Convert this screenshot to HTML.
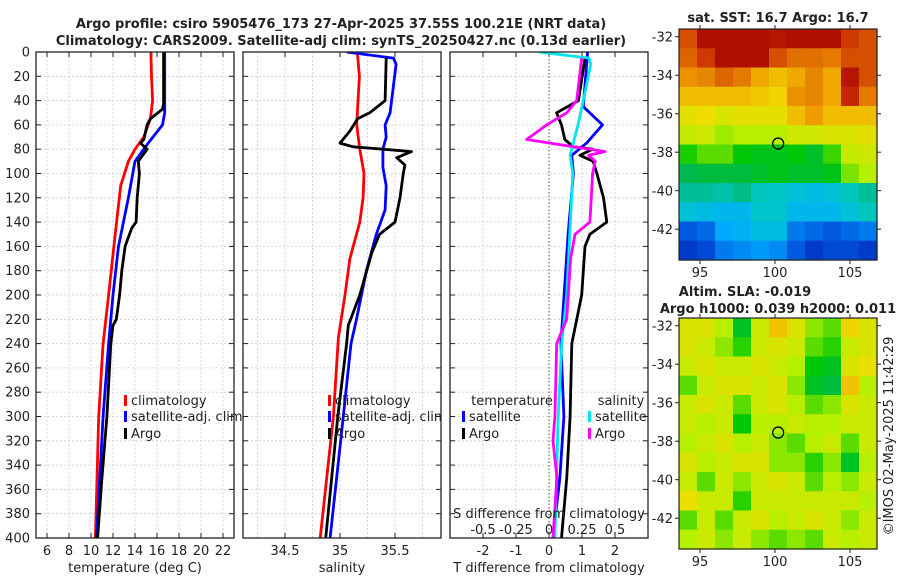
<!DOCTYPE html>
<html><head><meta charset="utf-8">
<style>
html,body{margin:0;padding:0;background:#fff;}
svg{display:block;font-family:"DejaVu Sans","Liberation Sans",sans-serif;}
</style></head>
<body>
<svg id="chart" width="900" height="580" viewBox="0 0 900 580" xmlns="http://www.w3.org/2000/svg">
<g id="root"></g>
</svg>
<script>
// ---------- data ----------
const depthTicks = [0,20,40,60,80,100,120,140,160,180,200,220,240,260,280,300,320,340,360,380,400];
const tempTicks = [6,8,10,12,14,16,18,20,22];
const salTicks = [34.5,35,35.5];
const tdiffTicks = [-2,-1,0,1,2];
const sdiffTicks = [-0.5,-0.25,0,0.25,0.5];
const sdiffTickLabels = ['-0.5','-0.25','0','0.25','0.5'];

const climTDepth = [0,20,40,55,70,80,90,110,150,200,240,300,400];
const climT      = [15.45,15.5,15.6,15.4,14.8,14.0,13.4,12.7,12.2,11.6,11.1,10.7,10.4];
const satTDepth  = [0,50,60,75,90,120,160,200,240,300,400];
const satT       = [16.7,16.7,16.5,15.2,14.0,13.4,12.5,12.0,11.6,11.1,10.5];
const argoTDepth = [0,42,47,55,60,72,75,80,85,90,100,120,140,145,160,180,200,220,225,240,300,350,400];
const argoT      = [16.6,16.6,16.5,15.4,15.1,14.8,14.5,15.1,14.7,14.3,14.4,14.2,14.1,13.7,13.1,12.8,12.6,12.3,12.0,11.8,11.45,11.0,10.6];

const climSDepth = [0,20,60,80,100,120,140,170,200,235,300,400];
const climS      = [35.157,35.176,35.152,35.18,35.218,35.21,35.18,35.09,35.045,34.985,34.94,34.82];
const satSDepth  = [0,5,10,50,60,70,80,95,110,130,150,180,220,240,300,400];
const satS       = [35.06,35.485,35.51,35.455,35.41,35.42,35.39,35.39,35.42,35.41,35.33,35.24,35.15,35.1,35.03,34.91];
const argoSDepth = [5,40,50,55,65,75,78,80,82,87,93,100,120,140,150,165,200,225,240,300,400];
const argoS      = [35.42,35.41,35.27,35.16,35.09,35.0,35.12,35.39,35.65,35.515,35.59,35.575,35.545,35.5,35.36,35.29,35.18,35.075,35.06,34.98,34.87];

const satTdDepth = [0,45,60,75,85,100,150,240,300,350,400];
const satTd      = [1.17,1.04,1.62,1.14,0.69,0.74,0.58,0.36,0.45,0.33,0.12];
const argoTdDepth= [5,40,50,60,72,78,80,85,90,100,120,140,150,160,200,240,300,350,400];
const argoTd     = [1.09,0.89,0.23,0.38,0.48,0.74,1.32,0.94,1.34,1.45,1.65,1.75,1.24,1.09,0.99,0.69,0.64,0.54,0.38];
const satSdDepth = [0,5,10,40,60,85,100,200,240,300,400];
const satSd      = [-0.076,0.303,0.316,0.26,0.22,0.16,0.18,0.134,0.096,0.07,0.045];
const argoSdDepth= [5,40,50,60,72,82,85,90,100,140,150,170,220,240,300,320,350,400];
const argoSd     = [0.248,0.21,0.134,-0.018,-0.169,0.424,0.30,0.35,0.33,0.31,0.197,0.164,0.134,0.058,0.045,0.03,0.06,0.03];

const lonTicks = [95,100,105];
const latTicks = [-32,-34,-36,-38,-40,-42];
const argoLon = 100.21, argoLat = -37.55;
const sstGrid = [
[18.6,19.3,19.3,19.3,19.3,19.2,19.3,19.3,19.3,18.8,18.6],
[18.4,18.8,19.3,19.3,19.3,18.6,18.3,18.3,18.2,18.6,18.6],
[18.0,18.1,18.4,18.2,17.8,17.6,17.8,18.1,17.8,19.2,18.6],
[17.6,17.6,17.6,17.6,17.5,17.4,18.0,18.1,17.8,19.0,18.2],
[17.2,17.3,17.1,17.2,17.2,17.2,17.6,17.9,17.6,17.6,17.6],
[16.9,17.0,16.7,16.8,16.8,16.8,17.0,17.0,17.1,17.1,17.2],
[16.3,16.5,16.5,16.2,16.1,16.1,16.2,16.0,16.4,16.9,17.0],
[15.8,15.9,15.9,15.9,16.0,16.1,16.0,16.0,16.1,16.6,16.8],
[15.4,15.4,15.3,15.5,15.2,15.1,15.0,14.9,15.0,15.2,15.4],
[15.0,14.9,14.8,14.8,15.1,15.1,14.8,14.8,14.8,15.0,15.2],
[14.1,14.2,14.6,14.7,14.9,14.9,14.3,14.2,14.1,14.2,14.3],
[13.9,14.0,14.3,14.4,14.5,14.4,14.1,13.9,14.0,14.0,13.9]];
const slaGrid = [
[.05,.05,.03,-.02,.04,.08,.05,.02,.01,.07,.05],
[.05,.04,.02,.00,.04,.05,.04,.01,.00,.04,.05],
[.04,.05,.04,.04,.05,.04,.03,-.01,-.02,.05,.06],
[.01,.04,.05,.05,.04,.05,.02,-.02,-.03,.08,.03],
[.04,.05,.04,.01,.04,.05,.03,.01,.02,.05,.04],
[.04,.03,.04,-.01,.03,.03,.04,.03,.03,.04,.04],
[.03,.04,.05,.03,.04,.02,.01,.03,.04,.01,.04],
[.05,.03,.04,.05,.05,.02,.02,.00,.02,-.02,.03],
[.04,.01,.04,.02,.04,.05,.04,.01,.03,.02,.04],
[.06,.04,.04,.00,.04,.04,.04,.04,.04,.04,.03],
[.01,.04,.01,.04,.05,.03,.04,.05,.04,.02,.04],
[.03,.04,.02,.04,.02,.01,.02,.01,.04,.03,.04]];

// ---------- helpers ----------
const NS='http://www.w3.org/2000/svg';
const root=document.getElementById('root');
function mk(tag,attrs,parent){const e=document.createElementNS(NS,tag);for(const k in attrs)e.setAttribute(k,attrs[k]);(parent||root).appendChild(e);return e;}
function txt(s,x,y,size,anchor,weight,parent){const t=mk('text',{x:x,y:y,'font-size':size,'text-anchor':anchor||'middle','font-weight':weight||'normal',fill:'#222'},parent);t.textContent=s;return t;}

const PT=52, PB=538;
const yD = d => PT + d*(PB-PT)/400;
const P1={x0:36,x1:234,v0:5,v1:23};
const P2={x0:243,x1:441,v0:34.11818,v1:35.91818};
const P3={x0:450,x1:648,v0:-3,v1:3};
const P3s={x0:450,x1:648,v0:-0.75,v1:0.75};
const xScale=(P,v)=>P.x0+(v-P.v0)*(P.x1-P.x0)/(P.v1-P.v0);

function panel(P,name,gridVals,labelVals,labels,xlabel){
  const g=mk('g',{});
  
  
  depthTicks.forEach(d=>{ if(d>0&&d<400) mk('line',{x1:P.x0,x2:P.x1,y1:yD(d),y2:yD(d),stroke:'#c8cce0','stroke-width':0.8,'stroke-dasharray':'2,2'},g);});
  gridVals.forEach(v=>{const x=xScale(P,v); mk('line',{x1:x,x2:x,y1:PT,y2:PB,stroke:'#c8cce0','stroke-width':0.8,'stroke-dasharray':'2,2'},g);});
  depthTicks.forEach(d=>{mk('line',{x1:P.x0,x2:P.x0+5,y1:yD(d),y2:yD(d),stroke:'#222'},g);mk('line',{x1:P.x1,x2:P.x1-5,y1:yD(d),y2:yD(d),stroke:'#222'},g);});
  labelVals.forEach((v,i)=>{const x=xScale(P,v);mk('line',{x1:x,x2:x,y1:PB,y2:PB-5,stroke:'#222'},g);mk('line',{x1:x,x2:x,y1:PT,y2:PT+5,stroke:'#222'},g);
    const t=txt(labels[i],x,555,13,'middle','normal',g); });
  const xl=txt(xlabel,(P.x0+P.x1)/2,572,13,'middle','normal',g);
  
  return g;
}
function frame(P,g){mk('rect',{x:P.x0,y:PT,width:P.x1-P.x0,height:PB-PT,fill:'none',stroke:'#222','stroke-width':1.3},g);}
function line(P,vals,depths,color,name,g,w){
  const pts=vals.map((v,i)=>xScale(P,v).toFixed(1)+','+yD(depths[i]).toFixed(1)).join(' ');
  const pl=mk('polyline',{points:pts,fill:'none',stroke:color,'stroke-width':w||2.8,'stroke-linejoin':'round'},g);
  
  
}
function legendEntry(x,y,color,label,g,name){
  const e=mk('g',{},g);
  
  
  mk('rect',{x:x,y:y-10,width:3,height:11,fill:color},e);
  txt(label,x+7,y,13,'start','normal',e);
}

const defs=mk('defs',{});
[[P1,'c1'],[P2,'c2'],[P3,'c3']].forEach(([P,id])=>{const c=mk('clipPath',{id:id},defs);mk('rect',{x:P.x0,y:PT,width:P.x1-P.x0,height:PB-PT},c);});

depthTicks.forEach(d=>{const t=txt(String(d),30,yD(d)+4.5,13,'end');});

// panel 1
const g1=panel(P1,'temperature-panel',[6,8,10,12,14,16,18,20,22],tempTicks,tempTicks.map(String),'temperature (deg C)');
const l1=mk('g',{'clip-path':'url(#c1)'},g1);
line(P1,climT,climTDepth,'#ff0000','climatology-temp-line',l1);
line(P1,satT,satTDepth,'#0000ff','satellite-temp-line',l1);
line(P1,argoT,argoTDepth,'#000000','argo-temp-line',l1);
legendEntry(124,405,'#ff0000','climatology',g1,'legend-climatology');
legendEntry(124,421,'#0000ff','satellite-adj. clim',g1,'legend-satellite-adj');
legendEntry(124,438,'#000000','Argo',g1,'legend-argo');
frame(P1,g1);

// panel 2
const g2=panel(P2,'salinity-panel',[34.25,34.5,34.75,35,35.25,35.5,35.75],salTicks,salTicks.map(String),'salinity');
const l2=mk('g',{'clip-path':'url(#c2)'},g2);
line(P2,climS,climSDepth,'#ff0000','climatology-salinity-line',l2);
line(P2,satS,satSDepth,'#0000ff','satellite-salinity-line',l2);
line(P2,argoS,argoSDepth,'#000000','argo-salinity-line',l2);
const lg2=mk('g',{'clip-path':'url(#c2)'},g2);
legendEntry(328,405,'#ff0000','climatology',lg2,'legend-climatology-2');
legendEntry(328,421,'#0000ff','satellite-adj. clim',lg2,'legend-satellite-adj-2');
legendEntry(328,438,'#000000','Argo',lg2,'legend-argo-2');
frame(P2,g2);

// panel 3
const g3=panel(P3,'difference-panel',[-2,-1,1,2],tdiffTicks,tdiffTicks.map(String),'T difference from climatology');
mk('line',{x1:xScale(P3,0),x2:xScale(P3,0),y1:PT,y2:PB,stroke:'#3a5a2a','stroke-width':1,'stroke-dasharray':'1.5,2'},g3);
const l3=mk('g',{'clip-path':'url(#c3)'},g3);
line(P3,satTd,satTdDepth,'#0000ff','satellite-tdiff-line',l3);
line(P3,argoTd,argoTdDepth,'#000000','argo-tdiff-line',l3);
line(P3s,satSd,satSdDepth,'#00e5ee','satellite-sdiff-line',l3);
line(P3s,argoSd,argoSdDepth,'#ff00ff','argo-sdiff-line',l3);
txt('temperature',512,405,13,'middle','normal',g3);
txt('salinity',621,405,13,'middle','normal',g3);
legendEntry(462,421,'#0000ff','satellite',g3,'legend-tdiff-satellite');
legendEntry(462,438,'#000000','Argo',g3,'legend-tdiff-argo');
legendEntry(588,421,'#00e5ee','satellite',g3,'legend-sdiff-satellite');
legendEntry(588,438,'#ff00ff','Argo',g3,'legend-sdiff-argo');
const st=txt('S difference from climatology',549,518,13,'middle','normal',g3);

sdiffTicks.forEach((v,i)=>{const t=txt(sdiffTickLabels[i],xScale(P3s,v),534,13,'middle','normal',g3);});
frame(P3,g3);

const t1=txt('Argo profile: csiro 5905476_173 27-Apr-2025 37.55S 100.21E (NRT data)',341,28,13,'middle','bold');

const t2=txt('Climatology: CARS2009. Satellite-adj clim: synTS_20250427.nc (0.13d earlier)',341,45,13,'middle','bold');


// ---------- maps ----------
const CMAP=[[0,0,140],[0,80,220],[0,170,255],[0,200,200],[0,180,100],[0,200,0],[180,240,0],[240,220,0],[240,160,0],[220,100,0],[200,40,0],[160,0,0]];
function cmap(t){t=Math.max(0,Math.min(1,t));const f=t*(CMAP.length-1);const i=Math.min(CMAP.length-2,Math.floor(f));const a=f-i;
  const c=CMAP[i].map((v,k)=>Math.round(v+(CMAP[i+1][k]-v)*a));return 'rgb('+c.join(',')+')';}
function mapPanel(name,y0,grid,vmin,vmax){
  const M={x0:679,x1:877,y0:y0,y1:y0+231,lon0:93.6,lon1:106.8,lat0:-31.6,lat1:-43.6};
  const mx=lon=>M.x0+(lon-M.lon0)*(M.x1-M.x0)/(M.lon1-M.lon0);
  const my=lat=>M.y0+(lat-M.lat0)*(M.y1-M.y0)/(M.lat1-M.lat0);
  const g=mk('g',{});
  
  
  const rows=grid.length, cols=grid[0].length;
  const cw=(M.x1-M.x0)/cols, ch=(M.y1-M.y0)/rows;
  grid.forEach((row,r)=>row.forEach((v,c)=>{
    const cell=mk('rect',{x:(M.x0+c*cw).toFixed(2),y:(M.y0+r*ch).toFixed(2),width:(cw+0.6).toFixed(2),height:(ch+0.6).toFixed(2),fill:cmap((v-vmin)/(vmax-vmin))},g);
    
  }));
  mk('rect',{x:M.x0,y:M.y0,width:M.x1-M.x0,height:M.y1-M.y0,fill:'none',stroke:'#222','stroke-width':1.2},g);
  lonTicks.forEach(l=>{const x=mx(l);mk('line',{x1:x,x2:x,y1:M.y1,y2:M.y1+4,stroke:'#222'},g);mk('line',{x1:x,x2:x,y1:M.y0,y2:M.y0-4,stroke:'#222'},g);
    const t=txt(String(l),x,M.y1+17,13,'middle','normal',g);});
  latTicks.forEach(l=>{const y=my(l);mk('line',{x1:M.x0,x2:M.x0-4,y1:y,y2:y,stroke:'#222'},g);mk('line',{x1:M.x1,x2:M.x1+4,y1:y,y2:y,stroke:'#222'},g);
    const t=txt(String(l),673,y+5,13,'end','normal',g);});
  const m=mk('circle',{cx:mx(argoLon),cy:my(argoLat),r:5.5,fill:'none',stroke:'#000','stroke-width':1.3},g);
  
  return g;
}
mapPanel('sst-map',29,sstGrid,13.5,19.5);
mapPanel('sla-map',318,slaGrid,-0.19,0.21);
const mt1=txt('sat. SST: 16.7 Argo: 16.7',778,22,13,'middle','bold');
const mt2=txt('Altim. SLA: -0.019',745,296,13,'middle','bold');
const mt3=txt('Argo h1000: 0.039 h2000: 0.011',778,313,13,'middle','bold');
const cr=txt('©IMOS 02-May-2025 11:42:29',0,0,13,'middle','normal');
cr.setAttribute('transform','translate(893,436) rotate(-90)');

</script>
</body></html>
